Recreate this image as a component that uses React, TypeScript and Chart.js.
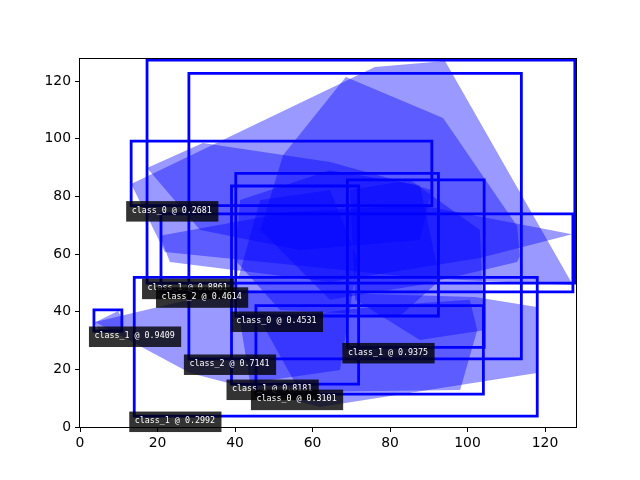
import React, { useEffect, useRef } from "react";
import { Chart, registerables } from "chart.js";

Chart.register(...registerables);

// Axis ticks
const xTicks = [0, 20, 40, 60, 80, 100, 120];
const yTicks = [0, 20, 40, 60, 80, 100, 120];
const axisMin = 0;
const axisMax = 128;

// Detection boxes (draw order), data units
const boxLabels = [
  "class_1 @ 0.8861",
  "class_2 @ 0.4614",
  "class_2 @ 0.7141",
  "class_0 @ 0.2681",
  "class_0 @ 0.4531",
  "class_1 @ 0.8181",
  "class_0 @ 0.3101",
  "class_1 @ 0.9375",
  "class_1 @ 0.2992",
  "class_1 @ 0.9409",
];
const boxX0 = [17.3, 20.9, 28.1, 13.2, 40.2, 39.1, 45.4, 69.0, 14.0, 3.6];
const boxX1 = [127.7, 127.2, 113.9, 90.8, 92.5, 71.9, 104.1, 104.3, 118.0, 10.8];
const boxY0 = [49.9, 46.9, 23.6, 76.8, 38.5, 14.9, 11.4, 27.6, 3.8, 33.3];
const boxY1 = [127.3, 73.9, 122.7, 99.2, 88.0, 83.6, 42.1, 85.7, 51.9, 40.6];

// Mask polygons, [x, y] in data units
const polyP = [[13.2, 84.3], [76.1, 124.9], [94.2, 127.0], [127.2, 49.3], [87.7, 51.7], [21.9, 60.7]];
const polyV = [[20.6, 66.3], [54.2, 74.6], [87.7, 77.0], [127.0, 66.9], [103.2, 58.6], [64.5, 50.3], [23.2, 57.2]];
const polyQ = [[52.4, 94.3], [68.6, 121.4], [93.7, 107.2], [112.8, 69.7], [113.5, 59.3], [112.8, 57.2], [87.7, 49.3], [64.5, 44.1], [46.5, 68.3]];
const polyR = [[17.3, 89.8], [31.7, 98.5], [64.5, 91.9], [90.8, 82.2], [87.7, 64.9], [56.8, 61.4], [31.0, 68.3]];
const polyS = [[41.3, 78.7], [64.5, 89.1], [87.7, 83.9], [92.9, 51.0], [82.6, 38.5], [51.6, 40.6], [40.0, 57.9]];
const polyT = [[40.0, 47.5], [46.5, 78.7], [64.5, 82.2], [71.7, 57.9], [67.1, 19.8], [43.9, 15.3]];
const polyX = [[46.5, 37.1], [77.4, 42.0], [100.6, 44.1], [102.5, 33.6], [98.1, 12.8], [56.8, 12.1]];
const polyU = [[69.7, 82.2], [85.2, 85.7], [103.2, 68.3], [104.3, 33.6], [87.7, 30.2], [71.0, 44.1]];
const polyW = [[3.9, 36.4], [38.7, 47.5], [101.9, 45.1], [117.9, 41.6], [117.9, 18.7], [61.9, 6.9], [28.4, 18.7]];
const polySmall = [[3.6, 36.1], [9.8, 40.2], [10.8, 37.8], [10.3, 33.3], [5.2, 33.3]];
const polygons = [polyP, polyV, polyQ, polyR, polyS, polyT, polyX, polyU, polyW, polySmall];

const BLUE = "#0000ff";

const overlayPlugin = {
  id: "overlay",
  beforeDatasetsDraw(chart: any) {
    const { ctx, chartArea, scales } = chart;
    ctx.save();
    ctx.beginPath();
    ctx.rect(chartArea.left, chartArea.top, chartArea.right - chartArea.left, chartArea.bottom - chartArea.top);
    ctx.clip();
    ctx.fillStyle = "rgba(0,0,255,0.4)";
    for (const poly of polygons) {
      ctx.beginPath();
      poly.forEach((p: number[], i: number) => {
        const px = scales.x.getPixelForValue(p[0]);
        const py = scales.y.getPixelForValue(p[1]);
        if (i === 0) ctx.moveTo(px, py);
        else ctx.lineTo(px, py);
      });
      ctx.closePath();
      ctx.fill();
    }
    ctx.restore();
  },
  afterDatasetsDraw(chart: any) {
    const { ctx, chartArea, scales } = chart;
    ctx.save();
    // frame
    ctx.strokeStyle = "#000";
    ctx.lineWidth = 1;
    ctx.strokeRect(
      Math.round(chartArea.left) - 0.5,
      Math.round(chartArea.top) + 0.5,
      Math.round(chartArea.right - chartArea.left) + 1,
      Math.round(chartArea.bottom - chartArea.top)
    );
    // labels
    ctx.font = '8.33px "DejaVu Sans Mono"';
    ctx.textBaseline = "top";
    ctx.textAlign = "left";
    boxLabels.forEach((label, i) => {
      const tx = scales.x.getPixelForValue(boxX0[i]) + 0.5;
      const ty = scales.y.getPixelForValue(boxY0[i]) + 0.5;
      const w = ctx.measureText(label).width;
      ctx.fillStyle = "rgba(0,0,0,0.8)";
      ctx.fillRect(tx - 5.5, ty - 5, w + 12, 20.5);
      ctx.fillStyle = "#ffffff";
      ctx.fillText(label, tx, ty + 0.5);
    });
    ctx.restore();
  },
};

export default function App() {
  const ref = useRef<HTMLCanvasElement | null>(null);
  useEffect(() => {
    if (!ref.current) return;
    const datasets = boxLabels.map((_, i) => ({
      data: [
        { x: boxX0[i], y: boxY0[i] },
        { x: boxX1[i], y: boxY0[i] },
        { x: boxX1[i], y: boxY1[i] },
        { x: boxX0[i], y: boxY1[i] },
        { x: boxX0[i], y: boxY0[i] },
      ],
      showLine: true,
      borderColor: BLUE,
      backgroundColor: BLUE,
      borderWidth: 2.8,
      borderJoinStyle: "miter" as const,
      borderCapStyle: "square" as const,
      pointRadius: 0,
      fill: false,
      tension: 0,
    }));
    const tickFont = { family: "DejaVu Sans", size: 13.9 };
    const chart = new Chart(ref.current, {
      type: "scatter",
      data: { datasets },
      plugins: [overlayPlugin],
      options: {
        responsive: false,
        animation: false,
        devicePixelRatio: 1,
        layout: { padding: { left: 0, top: 58, right: 64, bottom: 0 } },
        plugins: { legend: { display: false }, tooltip: { enabled: false } },
        scales: {
          x: {
            type: "linear",
            min: axisMin,
            max: axisMax,
            afterBuildTicks: (s: any) => {
              s.ticks = xTicks.map((v) => ({ value: v }));
            },
            afterFit: (s: any) => {
              s.height = 53;
            },
            grid: { drawOnChartArea: false, drawTicks: true, tickLength: 5, color: "#000", tickColor: "#000" },
            border: { display: false },
            ticks: { color: "#000", font: tickFont, padding: 3, maxRotation: 0, autoSkip: false },
          },
          y: {
            type: "linear",
            min: axisMin,
            max: axisMax,
            afterBuildTicks: (s: any) => {
              s.ticks = yTicks.map((v) => ({ value: v }));
            },
            afterFit: (s: any) => {
              s.width = 80;
            },
            grid: { drawOnChartArea: false, drawTicks: true, tickLength: 5, color: "#000", tickColor: "#000" },
            border: { display: false },
            ticks: { color: "#000", font: tickFont, padding: 4, autoSkip: false },
          },
        },
      },
    });
    return () => chart.destroy();
  }, []);
  return (
    <div style={{ position: "absolute", left: 0, top: 0, width: 640, height: 480, background: "#fff" }}>
      <canvas ref={ref} width={640} height={480} style={{ width: 640, height: 480 }} />
    </div>
  );
}
